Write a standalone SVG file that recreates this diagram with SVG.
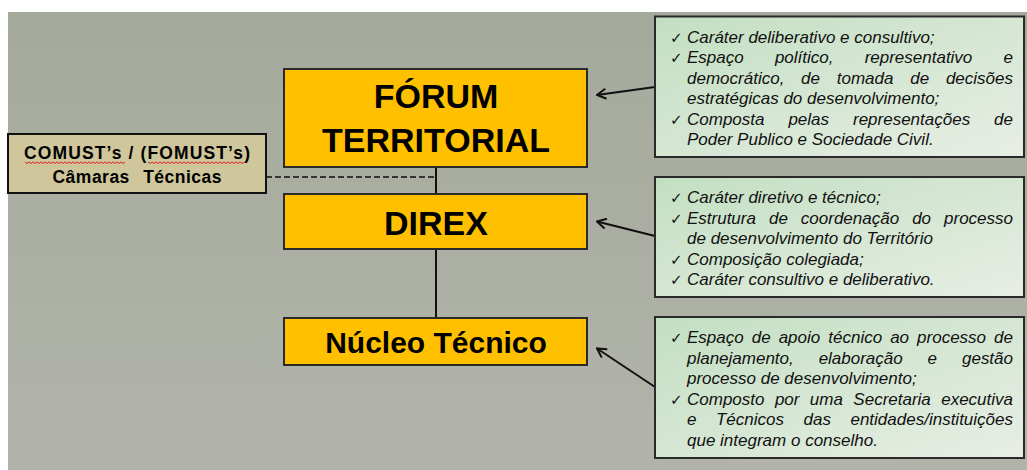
<svg xmlns="http://www.w3.org/2000/svg" width="1027" height="470" viewBox="0 0 1027 470">
  <defs>
    <linearGradient id="bg" x1="0" y1="0" x2="0" y2="1">
      <stop offset="0" stop-color="#a4aa9b"/>
      <stop offset="1" stop-color="#b2b4ab"/>
    </linearGradient>
    <linearGradient id="green" x1="0" y1="0" x2="1" y2="1">
      <stop offset="0" stop-color="#c2dfc1"/>
      <stop offset="1" stop-color="#e8eee5"/>
    </linearGradient>
    <marker id="arrow" viewBox="0 0 12 12" refX="11" refY="6" markerWidth="12" markerHeight="12" markerUnits="userSpaceOnUse" orient="auto">
      <path d="M2,1 L11,6 L2,11" fill="none" stroke="#111" stroke-width="2"/>
    </marker>
    <style>
      .main { fill: #ffc000; stroke: #2a2a2a; stroke-width: 2; }
      .mt { font-family: "Liberation Sans", Arial, sans-serif; font-weight: bold; fill: #000; text-anchor: middle; }
      .gbox { fill: url(#green); stroke: #2a2a2a; stroke-width: 2; }
      .it { font-family: "Liberation Sans", Arial, sans-serif; font-style: italic; font-size: 17px; fill: #111; }
      .ck { font-family: "DejaVu Sans", sans-serif; font-size: 15px; fill: #111; }
      .conn { stroke: #111; stroke-width: 2; fill: none; }
      .dash { stroke: #333; stroke-width: 2; fill: none; stroke-dasharray: 6 3; }
      .arr { stroke: #111; stroke-width: 2; fill: none; marker-end: url(#arrow); }
      .squig { stroke: #e02020; stroke-width: 1; fill: none; }
    </style>
  </defs>

  <rect x="0" y="0" width="1027" height="470" fill="#ffffff"/>
  <rect x="8" y="12" width="1019" height="458" fill="url(#bg)"/>

  <g id="connectors">
    <line class="conn" x1="436" y1="167" x2="436" y2="194"/>
    <line class="conn" x1="436" y1="249" x2="436" y2="318"/>
    <line class="dash" x1="266" y1="177" x2="436" y2="177"/>
    <line class="arr" x1="655" y1="87" x2="597" y2="95"/>
    <line class="arr" x1="655" y1="236" x2="597" y2="221.5"/>
    <line class="arr" x1="655" y1="387" x2="597" y2="348.5"/>
  </g>

  <g id="forum">
    <rect class="main" x="284" y="69" width="303" height="98"/>
    <text class="mt" x="436" y="108" font-size="34">FÓRUM</text>
    <text class="mt" x="436" y="152" font-size="34">TERRITORIAL</text>
  </g>

  <g id="direx">
    <rect class="main" x="284" y="194" width="303" height="55"/>
    <text class="mt" x="436" y="235" font-size="34">DIREX</text>
  </g>

  <g id="nucleo">
    <rect class="main" x="284" y="318" width="303" height="47"/>
    <text class="mt" x="436" y="353" font-size="30">Núcleo Técnico</text>
  </g>

  <g id="comust">
    <rect x="8" y="134" width="258" height="59" fill="#cfc69b" stroke="#111" stroke-width="2"/>
    <text class="mt" x="137" y="159" font-size="17.5" textLength="226" lengthAdjust="spacing">COMUST’s / (FOMUST’s)</text>
    <text class="mt" x="137" y="183" font-size="17.5" word-spacing="8" textLength="169" lengthAdjust="spacing">Câmaras Técnicas</text>
    <path class="squig" d="M25,162 l2,1.5 l2,-1.5 l2,1.5 l2,-1.5 l2,1.5 l2,-1.5 l2,1.5 l2,-1.5 l2,1.5 l2,-1.5 l2,1.5 l2,-1.5 l2,1.5 l2,-1.5 l2,1.5 l2,-1.5 l2,1.5 l2,-1.5 l2,1.5 l2,-1.5 l2,1.5 l2,-1.5 l2,1.5 l2,-1.5 l2,1.5 l2,-1.5 l2,1.5 l2,-1.5 l2,1.5 l2,-1.5 l2,1.5 l2,-1.5 l2,1.5 l2,-1.5 l2,1.5 l2,-1.5 l2,1.5 l2,-1.5 l2,1.5 l2,-1.5 l2,1.5 l2,-1.5 l2,1.5 l2,-1.5 l2,1.5 l2,-1.5 l2,1.5 l2,-1.5 l2,1.5 l2,-1.5"/>
    <path class="squig" d="M148,162 l2,1.5 l2,-1.5 l2,1.5 l2,-1.5 l2,1.5 l2,-1.5 l2,1.5 l2,-1.5 l2,1.5 l2,-1.5 l2,1.5 l2,-1.5 l2,1.5 l2,-1.5 l2,1.5 l2,-1.5 l2,1.5 l2,-1.5 l2,1.5 l2,-1.5 l2,1.5 l2,-1.5 l2,1.5 l2,-1.5 l2,1.5 l2,-1.5 l2,1.5 l2,-1.5 l2,1.5 l2,-1.5 l2,1.5 l2,-1.5 l2,1.5 l2,-1.5 l2,1.5 l2,-1.5 l2,1.5 l2,-1.5 l2,1.5 l2,-1.5 l2,1.5 l2,-1.5 l2,1.5 l2,-1.5 l2,1.5 l2,-1.5 l2,1.5 l2,-1.5"/>
  </g>

  <g id="desc-forum">
    <rect class="gbox" x="655" y="16.5" width="369" height="140.5"/>
    <text class="ck" x="670" y="42.5">✓</text>
    <text class="it" x="687" y="42.5">Caráter deliberativo e consultivo;</text>
    <text class="ck" x="670" y="63">✓</text>
    <text class="it" x="687" y="63" word-spacing="26.5" textLength="326" lengthAdjust="spacing">Espaço político, representativo e</text>
    <text class="it" x="687" y="83.5" word-spacing="12" textLength="326" lengthAdjust="spacing">democrático, de tomada de decisões</text>
    <text class="it" x="687" y="104">estratégicas do desenvolvimento;</text>
    <text class="ck" x="670" y="124.5">✓</text>
    <text class="it" x="687" y="124.5" word-spacing="19.2" textLength="326" lengthAdjust="spacing">Composta pelas representações de</text>
    <text class="it" x="687" y="145">Poder Publico e Sociedade Civil.</text>
  </g>

  <g id="desc-direx">
    <rect class="gbox" x="655" y="177" width="369" height="120"/>
    <text class="ck" x="670" y="203">✓</text>
    <text class="it" x="687" y="203">Caráter diretivo e técnico;</text>
    <text class="ck" x="670" y="223.5">✓</text>
    <text class="it" x="687" y="223.5" word-spacing="8.3" textLength="326" lengthAdjust="spacing">Estrutura de coordenação do processo</text>
    <text class="it" x="687" y="244">de desenvolvimento do Território</text>
    <text class="ck" x="670" y="264.5">✓</text>
    <text class="it" x="687" y="264.5">Composição colegiada;</text>
    <text class="ck" x="670" y="285">✓</text>
    <text class="it" x="687" y="285">Caráter consultivo e deliberativo.</text>
  </g>

  <g id="desc-nucleo">
    <rect class="gbox" x="655" y="317" width="369" height="141"/>
    <text class="ck" x="670" y="343">✓</text>
    <text class="it" x="687" y="343" word-spacing="3.3" textLength="326" lengthAdjust="spacing">Espaço de apoio técnico ao processo de</text>
    <text class="it" x="687" y="363.5" word-spacing="20.2" textLength="326" lengthAdjust="spacing">planejamento, elaboração e gestão</text>
    <text class="it" x="687" y="384">processo de desenvolvimento;</text>
    <text class="ck" x="670" y="404.5">✓</text>
    <text class="it" x="687" y="404.5" word-spacing="5.7" textLength="326" lengthAdjust="spacing">Composto por uma Secretaria executiva</text>
    <text class="it" x="687" y="425" word-spacing="14.8" textLength="326" lengthAdjust="spacing">e Técnicos das entidades/instituições</text>
    <text class="it" x="687" y="445.5">que integram o conselho.</text>
  </g>
</svg>
